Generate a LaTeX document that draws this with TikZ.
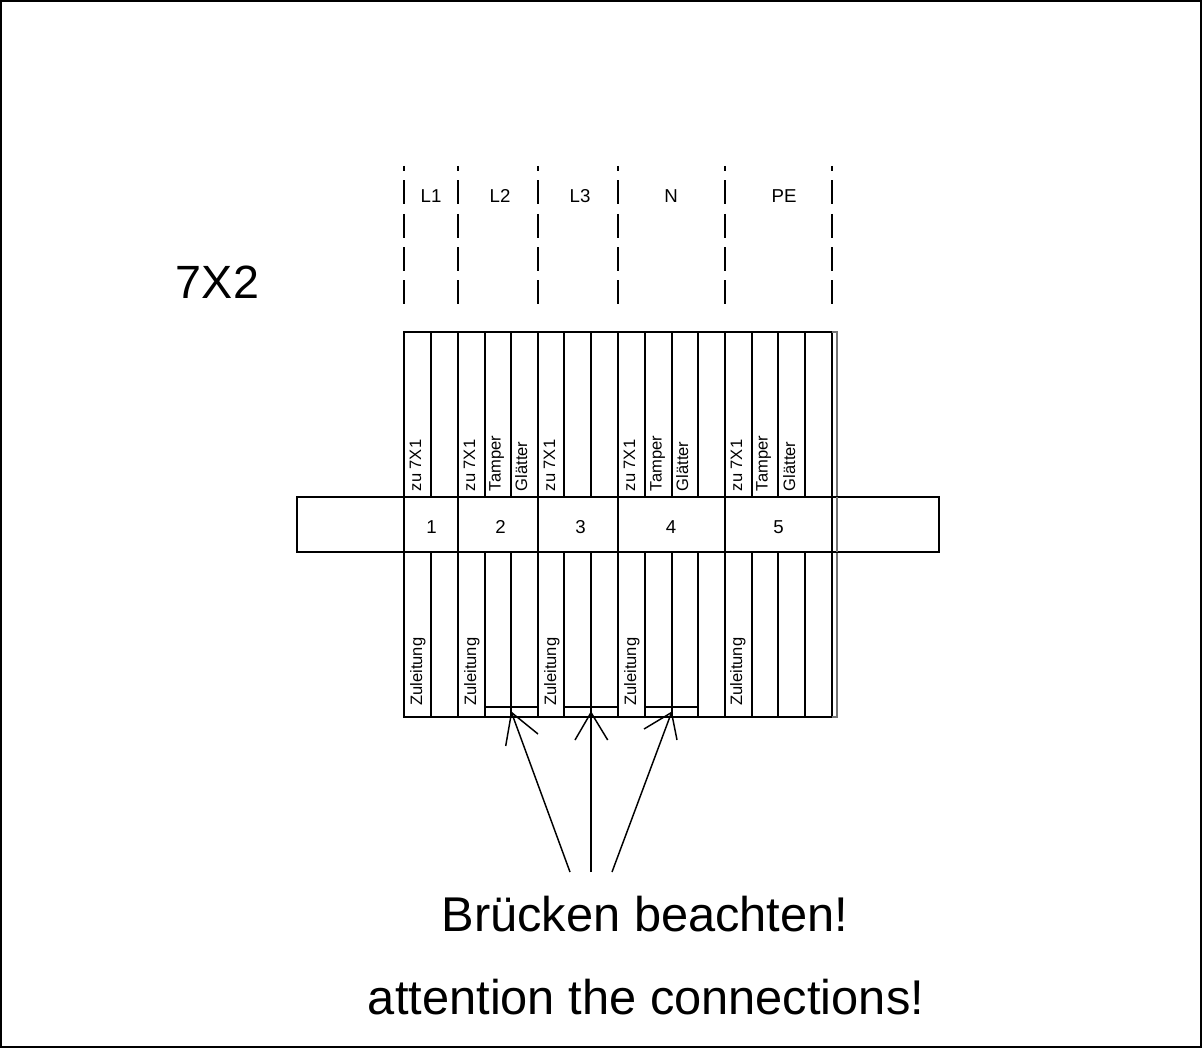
\documentclass[tikz,border=0pt]{standalone}
\usepackage{fontspec}
\setmainfont{Liberation Sans}
\tikzset{
  line/.style={draw=black,line width=1.1pt},
  phase/.style={line,dash pattern=on 3.6pt off 7.2pt on 18pt off 7.2pt on 18pt off 6.8pt on 18pt off 7pt on 18pt},
  lbl/.style={inner sep=0pt,font=\fontsize{14}{16}\selectfont},
  vlbl/.style={inner sep=0pt,rotate=90,anchor=base west,font=\fontsize{12.4}{14}\selectfont},
  big/.style={inner sep=0pt,font=\fontsize{36.6}{40}\selectfont},
  bridge/.style={draw=black,line width=1.5pt},
}
\begin{document}
\begin{tikzpicture}[x=0.75pt,y=-0.75pt]
\useasboundingbox (0,0) rectangle (1202,1048);
\fill[white] (0,0) rectangle (1202,1048);
\draw[line] (0.8,0.8) rectangle (1201.2,1047);
% phase lines
\foreach \x in {404,458,538,618,725,832} \draw[phase] (\x,166) -- (\x,305);
\node[lbl] (tL1) at (431,196) {L1};
\node[lbl] (tL2) at (500,196) {L2};
\node[lbl] (tL3) at (580,196) {L3};
\node[lbl] (tN) at (671,196) {N};
\node[lbl] (tPE) at (784,196) {PE};
\node[inner sep=0pt,font=\fontsize{35}{38}\selectfont] (title) at (217.5,282) {7X2};
% terminal block
\draw[line] (404,332) rectangle (832,717);
\draw[line,black!55,line width=0.9pt] (832,332) -- (837,332) -- (837,717) -- (832,717);
\foreach \x in {431,458,485,511,538,564,591,618,645,672,698,725,752,778,805} {
  \draw[line] (\x,332) -- (\x,497);
  \draw[line] (\x,552) -- (\x,717);
}
\draw[line,fill=white] (297,497) rectangle (939,552);
\foreach \x in {404,458,538,618,725,832} \draw[line] (\x,497) -- (\x,552);
\draw[line,black!55,line width=0.9pt] (837,497) -- (837,552);
\node[lbl] (n1) at (431.5,527) {1};
\node[lbl] (n2) at (500.5,527) {2};
\node[lbl] (n3) at (580.5,527) {3};
\node[lbl] (n4) at (671,527) {4};
\node[lbl] (n5) at (778.5,527) {5};
% upper labels
\foreach \x/\t in {421/zu 7X1,475/zu 7X1,500.5/Tamper,527/Glätter,555/zu 7X1,635/zu 7X1,661.5/Tamper,688/Glätter,742/zu 7X1,767.5/Tamper,795/Glätter}
  \node[vlbl] at (\x,491.5) {\t};
% lower labels
\foreach \x in {422,476,556,636,742}
  \node[vlbl] at (\x,706) {Zuleitung};
% bridges
\draw[bridge] (485,707) -- (538,707);
\draw[bridge] (564,707) -- (618,707);
\draw[bridge] (645,707) -- (698,707);
% text
\node[big] (de) at (645,914) {Brücken beachten!};
\node[big] (en) at (646,997) {attention the connections!};
% arrows
\coordinate (t1) at (511.5,712.5);
\coordinate (t2) at (591,712.5);
\coordinate (t3) at (671.5,712.5);
\coordinate (s1) at (570,872);
\coordinate (s2) at (591,872);
\coordinate (s3) at (612,872);
\draw[line] (s1) -- (t1);
\draw[line] (s2) -- (t2);
\draw[line] (s3) -- (t3);
\draw[line] (505.7,746) -- (t1) -- (538,734);
\draw[line] (575,740) -- (t2) -- (607.7,740);
\draw[line] (644,729) -- (t3) -- (677,740);
\end{tikzpicture}
\end{document}
